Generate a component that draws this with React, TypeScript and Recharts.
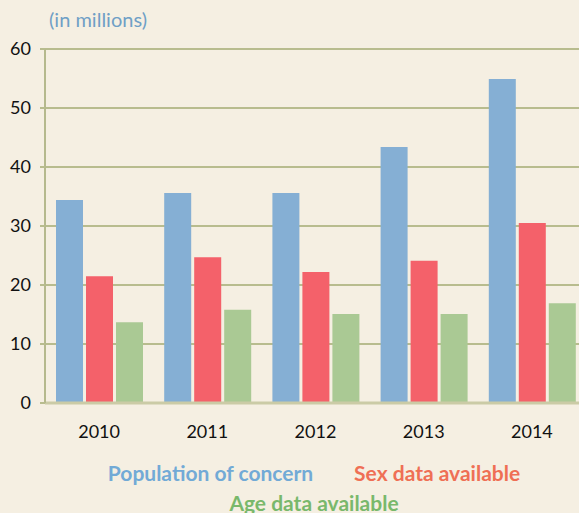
import React from 'react';
import { BarChart, Bar, XAxis, YAxis, CartesianGrid, Legend } from 'recharts';

if (typeof document !== 'undefined') {
  document.body.style.margin = '0';
  document.body.style.background = '#F5EFE2';
}

const years = ['2010', '2011', '2012', '2013', '2014'];
const population = [34.4, 35.6, 35.6, 43.4, 54.9];
const sexData = [21.5, 24.7, 22.2, 24.1, 30.5];
const ageData = [13.7, 15.8, 15.1, 15.1, 16.9];
const yTicks = [0, 10, 20, 30, 40, 50, 60];

const series = [
  { key: 'population', name: 'Population of concern', fill: '#85AFD4', text: '#72AAD6' },
  { key: 'sex', name: 'Sex data available', fill: '#F4616A', text: '#EF6F55' },
  { key: 'age', name: 'Age data available', fill: '#AAC994', text: '#79B86B' },
];

const data = years.map((y, i) => ({
  year: y,
  population: population[i],
  sex: sexData[i],
  age: ageData[i],
}));

const FONT = 'Lato, "Open Sans", sans-serif';

const LegendContent = () => (
  <div style={{ fontFamily: FONT, fontWeight: 700, fontSize: 21, lineHeight: '30px', textAlign: 'center' }}>
    <div>
      <span style={{ color: series[0].text, marginRight: 41 }}>{series[0].name}</span>
      <span style={{ color: series[1].text }}>{series[1].name}</span>
    </div>
    <div>
      <span style={{ color: series[2].text }}>{series[2].name}</span>
    </div>
  </div>
);

export default function App() {
  return (
    <div style={{ width: 579, height: 513, overflow: 'hidden', background: '#F5EFE2', position: 'relative' }}>
      <BarChart
        width={628}
        height={513}
        data={data}
        margin={{ top: 49, right: 42, bottom: 0, left: 0 }}
        barSize={27}
        barGap={3}
      >
        <CartesianGrid vertical={false} stroke="#B8BC8E" strokeWidth={2} />
        <XAxis
          dataKey="year"
          height={110}
          tickLine={false}
          tickMargin={16}
          axisLine={{ stroke: '#CBCBA6', strokeWidth: 3 }}
          tick={{ fill: '#111', fontSize: 18, fontFamily: FONT }}
        />
        <YAxis
          width={45}
          domain={[0, 60]}
          ticks={yTicks}
          tickSize={5}
          tickMargin={9}
          tickLine={{ stroke: '#B8BC8E', strokeWidth: 2 }}
          axisLine={{ stroke: '#B5B98D', strokeWidth: 2 }}
          tick={{ fill: '#111', fontSize: 18, fontFamily: FONT }}
        />
        <Legend
          verticalAlign="middle"
          align="center"
          layout="horizontal"
          wrapperStyle={{ top: 458, left: 0, width: 628 }}
          content={<LegendContent />}
        />
        {series.map((s) => (
          <Bar key={s.key} dataKey={s.key} name={s.name} fill={s.fill} isAnimationActive={false} />
        ))}
        <text x={49} y={27} fill="#6F9FC6" fontSize={20} fontFamily={FONT}>(in millions)</text>
      </BarChart>
    </div>
  );
}
